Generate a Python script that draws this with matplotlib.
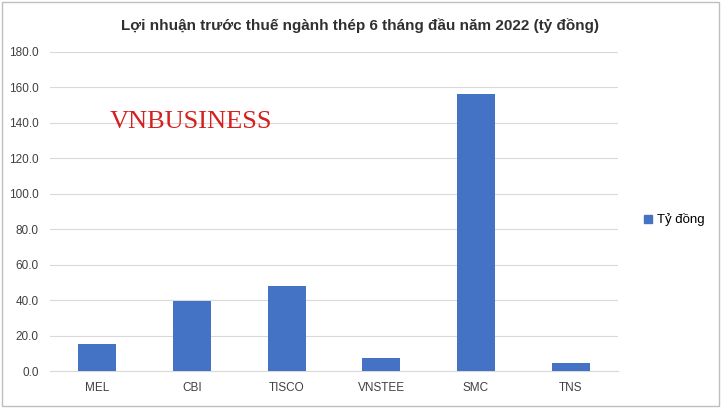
import matplotlib
matplotlib.use("Agg")
import matplotlib.pyplot as plt
from matplotlib.patches import Patch

categories = ["MEL", "CBI", "TISCO", "VNSTEE", "SMC", "TNS"]
values = [15.5, 39.3, 47.7, 7.5, 156.3, 4.3]
yticks = [0, 20, 40, 60, 80, 100, 120, 140, 160, 180]

W, H = 721, 408
fig = plt.figure(figsize=(W/100, H/100), dpi=100)
fig.patch.set_facecolor("white")
ax = fig.add_axes([50/W, 1-371/H, (618-50)/W, (371-52)/H])
color = "#4472C4"
ax.bar(range(len(categories)), values, width=0.4, color=color, zorder=3)
ax.set_xlim(-0.5, len(categories)-0.5)
ax.set_ylim(0, 180)
ax.set_yticks(yticks)
ax.set_yticklabels([f"{v:.1f}" for v in yticks], fontsize=8.5, family="Liberation Sans")
ax.set_xticks(range(len(categories)))
ax.set_xticklabels(categories, fontsize=8.5, family="Liberation Sans")
ax.grid(axis="y", color="#d9d9d9", lw=0.8, zorder=0)
for s in ["top", "right", "left"]:
    ax.spines[s].set_visible(False)
ax.spines["bottom"].set_color("#d9d9d9")
ax.tick_params(length=0, pad=8, colors="#404040")
fig.text(360/W, 1-26/H, "Lợi nhuận trước thuế ngành thép 6 tháng đầu năm 2022 (tỷ đồng)",
         ha="center", va="center", fontsize=11, fontweight="bold", family="Liberation Sans", color="#303030")
fig.text(110/W, 1-122/H, "VNBUSINESS", ha="left", va="center", fontsize=19,
         family="Liberation Serif", color="#d62020", fontstretch="condensed")
fig.text(1, 1, "", fontsize=1)
fig.legend(handles=[Patch(color=color)], labels=["Tỷ đồng"], loc="center left",
           bbox_to_anchor=(632/W, 1-220/H), frameon=False,
           handlelength=0.6, handleheight=0.6, handletextpad=0.4, prop={"family": "Liberation Sans", "size": 9.5})
fig.add_artist(plt.Rectangle((2/W, 2/H), 1-4/W, 1-4/H, transform=fig.transFigure,
                             fill=False, ec="#bfbfbf", lw=1))
fig.savefig("out.png", dpi=100)
